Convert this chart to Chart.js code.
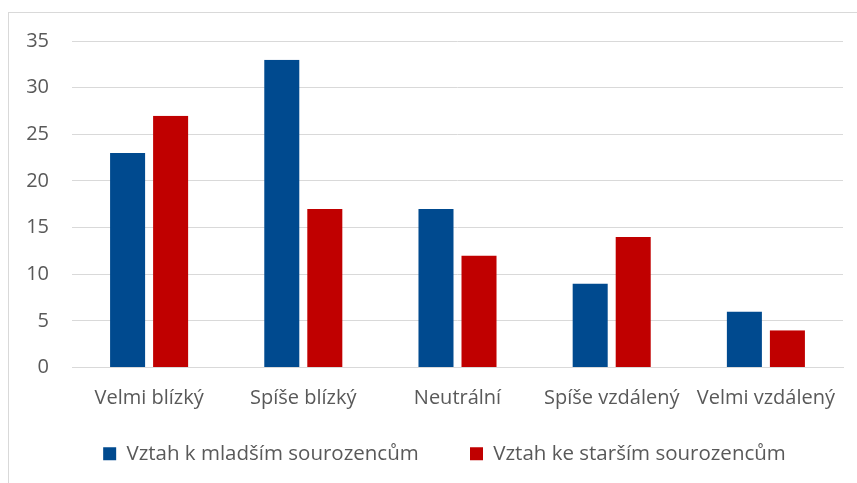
<!DOCTYPE html>
<html>
<head>
<meta charset="utf-8">
<script src="https://cdn.jsdelivr.net/npm/chart.js@4.4.1/dist/chart.umd.min.js"></script>
<style>
  html, body { margin: 0; padding: 0; background: #fff; overflow: hidden; }
  #frame { position: absolute; left: 8px; top: 12px; width: 900px; height: 500px; border: 1px solid #d9d9d9; }
  #wrap { position: absolute; left: 0; top: 0; width: 857px; height: 483px; }
</style>
</head>
<body>
<div id="frame"></div>
<div id="wrap"><canvas id="sibChart"></canvas></div>
<script>
const categories = ['Velmi blízký', 'Spíše blízký', 'Neutrální', 'Spíše vzdálený', 'Velmi vzdálený'];
const youngerValues = [23, 33, 17, 9, 6];
const olderValues = [27, 17, 12, 14, 4];
const seriesNames = ['Vztah k mladším sourozencům', 'Vztah ke starším sourozencům'];
const yTicks = [0, 5, 10, 15, 20, 25, 30, 35];

const textColor = '#595959';
const gridColor = '#d9d9d9';
const fontFamily = '"Open Sans", sans-serif';

const data = {
  labels: categories,
  datasets: [{
    label: seriesNames[0],
    data: youngerValues,
    backgroundColor: '#004a8f',
    borderColor: 'rgba(0,0,0,0)',
    borderWidth: {left: 4, right: 4, top: 0, bottom: 0},
    borderSkipped: false
  }, {
    label: seriesNames[1],
    data: olderValues,
    backgroundColor: '#c00000',
    borderColor: 'rgba(0,0,0,0)',
    borderWidth: {left: 4, right: 4, top: 0, bottom: 0},
    borderSkipped: false
  }]
};

// legend sits a bit right of canvas centre in the original
const legendShift = {
  id: 'legendShift',
  afterLayout(chart) {
    chart.legend.left += 23;
    chart.legend.right += 23;
  }
};

const config = {
  type: 'bar',
  data: data,
  options: {
    responsive: false,
    animation: false,
    datasets: {
      bar: { categoryPercentage: 0.558, barPercentage: 1 }
    },
    layout: { padding: { left: 0, right: 14, top: 41, bottom: 9 } },
    plugins: {
      legend: {
        position: 'bottom',
        labels: {
          boxWidth: 13,
          boxHeight: 13,
          padding: 14,
          color: textColor,
          font: { family: fontFamily, size: 20.5 },
          generateLabels: function(chart) {
            const items = Chart.defaults.plugins.legend.labels.generateLabels(chart);
            items[0].text += '       ';
            return items;
          }
        }
      },
      tooltip: { enabled: false }
    },
    scales: {
      x: {
        grid: { display: false, drawTicks: false },
        border: { color: gridColor, width: 1 },
        ticks: { color: textColor, padding: 19, maxRotation: 0, font: { family: fontFamily, size: 20 } }
      },
      y: {
        min: 0,
        max: 35,
        afterFit: function(scale) { scale.width = 72; },
        afterBuildTicks: function(scale) { scale.ticks = yTicks.map(v => ({value: v})); },
        grid: { color: gridColor, drawTicks: false },
        border: { display: false },
        ticks: { color: textColor, padding: 23, font: { family: fontFamily, size: 20 } }
      }
    }
  },
  plugins: [legendShift]
};

var ctx = document.getElementById('sibChart');
ctx.width = 857;
ctx.height = 483;
var myChart = new Chart(ctx, config);
</script>
</body>
</html>
